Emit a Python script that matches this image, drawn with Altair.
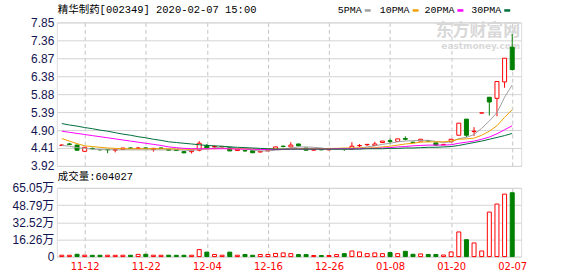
import json
import numpy as np
import pandas as pd
import altair as alt

# ---------------- data ----------------
dates = ["11-07", "11-08", "11-11", "11-12", "11-13", "11-14", "11-15", "11-18", "11-19", "11-20",
         "11-21", "11-22", "11-25", "11-26", "11-27", "11-28", "11-29", "12-02", "12-03", "12-04",
         "12-05", "12-06", "12-09", "12-10", "12-11", "12-12", "12-13", "12-16", "12-17", "12-18",
         "12-19", "12-20", "12-23", "12-24", "12-25", "12-26", "12-27", "12-30", "12-31", "01-02",
         "01-03", "01-06", "01-07", "01-08", "01-09", "01-10", "01-13", "01-14", "01-15", "01-16",
         "01-17", "01-20", "01-21", "01-22", "01-23", "02-03", "02-04", "02-05", "02-06", "02-07"]

opens = [4.48, 4.52, 4.49, 4.32, 4.40, 4.37, 4.37, 4.35, 4.37, 4.41,
         4.40, 4.41, 4.37, 4.41, 4.37, 4.36, 4.31, 4.31, 4.35, 4.48,
         4.44, 4.44, 4.43, 4.34, 4.34, 4.34, 4.30, 4.33, 4.38, 4.46,
         4.44, 4.52, 4.41, 4.35, 4.37, 4.36, 4.37, 4.38, 4.38, 4.47,
         4.50, 4.48, 4.56, 4.61, 4.59, 4.67, 4.57, 4.60, 4.61, 4.55,
         4.50, 4.58, 4.76, 5.20, 4.86, 5.37, 5.80, 5.77, 6.22, 7.17]
highs = [4.51, 4.55, 4.50, 4.44, 4.42, 4.38, 4.37, 4.38, 4.41, 4.43,
         4.44, 4.43, 4.40, 4.42, 4.37, 4.37, 4.32, 4.35, 4.60, 4.52,
         4.48, 4.46, 4.43, 4.38, 4.35, 4.34, 4.32, 4.36, 4.44, 4.48,
         4.57, 4.53, 4.41, 4.37, 4.37, 4.38, 4.39, 4.38, 4.57, 4.52,
         4.51, 4.58, 4.60, 4.67, 4.66, 4.73, 4.58, 4.65, 4.63, 4.55,
         4.52, 4.66, 5.09, 5.20, 4.98, 5.37, 5.80, 6.23, 6.87, 7.53]
lows = [4.47, 4.49, 4.34, 4.31, 4.37, 4.34, 4.27, 4.29, 4.36, 4.39,
        4.38, 4.38, 4.31, 4.39, 4.34, 4.33, 4.26, 4.26, 4.32, 4.41,
        4.40, 4.42, 4.33, 4.33, 4.31, 4.28, 4.29, 4.33, 4.37, 4.43,
        4.43, 4.46, 4.35, 4.34, 4.35, 4.35, 4.36, 4.33, 4.37, 4.44,
        4.47, 4.48, 4.56, 4.53, 4.58, 4.62, 4.55, 4.60, 4.57, 4.48,
        4.49, 4.57, 4.76, 4.71, 4.74, 5.37, 5.30, 5.28, 6.06, 6.53]
closes = [4.49, 4.51, 4.35, 4.43, 4.39, 4.36, 4.36, 4.37, 4.41, 4.40,
          4.41, 4.40, 4.40, 4.40, 4.35, 4.34, 4.28, 4.35, 4.54, 4.41,
          4.45, 4.45, 4.33, 4.38, 4.33, 4.28, 4.32, 4.36, 4.44, 4.45,
          4.49, 4.47, 4.35, 4.37, 4.36, 4.37, 4.38, 4.37, 4.46, 4.48,
          4.51, 4.52, 4.60, 4.59, 4.66, 4.65, 4.56, 4.65, 4.60, 4.49,
          4.51, 4.65, 5.09, 4.76, 4.87, 5.37, 5.67, 6.23, 6.87, 6.56]
volumes = [13000, 12500, 22000, 13000, 12000, 12500, 13000, 12000, 13000, 12500,
           21000, 22000, 13000, 12500, 13000, 12000, 12500, 13000, 66000, 42000,
           20000, 13000, 42000, 13000, 20000, 12500, 20000, 20000, 30000, 35000,
           28000, 19000, 19000, 10000, 10000, 10000, 19000, 28000, 53000, 44000,
           28000, 35000, 28000, 38000, 28000, 50000, 22000, 25000, 20000, 20000,
           15000, 44000, 233000, 160000, 129000, 53000, 421000, 497000, 591000, 604027]

ma5 = [4.48, 4.46, 4.42, 4.40, 4.38, 4.37, 4.36, 4.36, 4.36, 4.36,
       4.36, 4.36, 4.36, 4.36, 4.36, 4.36, 4.35, 4.34, 4.37, 4.38,
       4.41, 4.44, 4.44, 4.40, 4.39, 4.35, 4.33, 4.33, 4.35, 4.37,
       4.41, 4.44, 4.44, 4.43, 4.41, 4.38, 4.37, 4.37, 4.39, 4.41,
       4.44, 4.47, 4.51, 4.54, 4.58, 4.60, 4.61, 4.62, 4.62, 4.59,
       4.56, 4.58, 4.67, 4.70, 4.78, 4.95, 5.15, 5.38, 5.80, 6.14]
ma10 = [4.67, 4.60, 4.53, 4.47, 4.45, 4.43, 4.41, 4.40, 4.39, 4.39,
        4.39, 4.39, 4.39, 4.39, 4.39, 4.38, 4.38, 4.37, 4.39, 4.39,
        4.39, 4.40, 4.39, 4.39, 4.39, 4.38, 4.38, 4.39, 4.38, 4.38,
        4.38, 4.39, 4.39, 4.39, 4.39, 4.40, 4.40, 4.41, 4.41, 4.41,
        4.41, 4.42, 4.44, 4.46, 4.49, 4.52, 4.54, 4.57, 4.58, 4.58,
        4.58, 4.60, 4.65, 4.66, 4.68, 4.76, 4.87, 5.02, 5.25, 5.46]
ma20 = [4.87, 4.84, 4.81, 4.78, 4.75, 4.72, 4.69, 4.66, 4.63, 4.60,
        4.57, 4.54, 4.51, 4.48, 4.44, 4.42, 4.40, 4.39, 4.39, 4.39,
        4.39, 4.39, 4.39, 4.38, 4.38, 4.38, 4.37, 4.37, 4.37, 4.37,
        4.38, 4.38, 4.38, 4.38, 4.38, 4.38, 4.39, 4.39, 4.39, 4.39,
        4.40, 4.40, 4.41, 4.42, 4.44, 4.45, 4.47, 4.48, 4.49, 4.49,
        4.49, 4.50, 4.54, 4.57, 4.60, 4.65, 4.71, 4.80, 4.91, 5.02]
ma30 = [5.08, 5.04, 5.01, 4.97, 4.94, 4.90, 4.87, 4.83, 4.79, 4.76,
        4.72, 4.69, 4.65, 4.62, 4.58, 4.56, 4.54, 4.52, 4.50, 4.48,
        4.47, 4.46, 4.44, 4.43, 4.42, 4.41, 4.40, 4.39, 4.38, 4.38,
        4.38, 4.38, 4.38, 4.38, 4.38, 4.38, 4.38, 4.38, 4.38, 4.38,
        4.39, 4.39, 4.39, 4.40, 4.40, 4.41, 4.41, 4.42, 4.43, 4.43,
        4.44, 4.45, 4.48, 4.52, 4.56, 4.60, 4.65, 4.70, 4.75, 4.81]

axis_dates = ["11-12", "11-22", "12-04", "12-16", "12-26", "01-08", "01-20", "02-07"]
price_ticks = ["3.92", "4.41", "4.90", "5.39", "5.88", "6.38", "6.87", "7.36", "7.85"]
volume_ticks = ["0", "16.26万", "32.52万", "48.79万", "65.05万"]
title_text = "精华制药[002349] 2020-02-07 15:00"
ma_labels = ["5PMA", "10PMA", "20PMA", "30PMA"]
volume_label = "成交量"
watermark_cn = "东方财富网"
watermark_en = "eastmoney.com"

# ---------------- styling ----------------
RED = "#ff0000"
GREEN = "#008000"
MA_COLORS = ["#a0a0a0", "#f0a000", "#ff00ff", "#006f3c"]
GRID = "#d4d4d4"
VGRID = "#c4c4c4"
BORDER = "#a0a0a0"
LABEL_COLOR = "#141450"
MONO = "Liberation Mono, Noto Sans CJK SC"
LABEL_FONT = "Liberation Sans, Noto Sans CJK SC"

W, HP, HV = 466, 144, 69

df = pd.DataFrame({"idx": np.arange(len(dates)), "date": dates, "open": opens, "high": highs,
                   "low": lows, "close": closes, "volume": volumes,
                   "MA5": ma5, "MA10": ma10, "MA20": ma20, "MA30": ma30})
prev = df["close"].shift(1)
up = (df["close"] > df["open"]) | ((df["close"] == df["open"]) & (df["close"] >= prev.fillna(df["open"])))
df["dir"] = np.where(up, "up", "down")
vup = np.where(prev.isna(), up, df["close"] >= prev)
df["vdir"] = np.where(vup, "up", "down")

tick_idx = [dates.index(d) for d in axis_dates]
label_expr = json.dumps(dates) + "[datum.value]"
xscale = alt.Scale(domain=[-0.653, 60.175], nice=False, zero=False, padding=0)

dir_color = alt.Scale(domain=["up", "down"], range=[RED, GREEN])
dir_fill = alt.Scale(domain=["up", "down"], range=["#ffffff", GREEN])

x_price_axis = alt.Axis(values=tick_idx, labels=False, ticks=False, domain=False,
                        grid=True, gridDash=[4, 3], gridColor=VGRID, title=None)
price_vals = [float(s) for s in price_ticks]
y_price_axis = alt.Axis(values=price_vals, format=".2f", ticks=False, domain=False, grid=True,
                        gridColor=GRID, labelFont=LABEL_FONT, labelFontSize=12,
                        labelColor=LABEL_COLOR, labelPadding=3, labelOverlap=False,
                        labelBound=False, title=None)
yscale_price = alt.Scale(domain=[price_vals[0], price_vals[-1]], nice=False, zero=False, padding=0)


def xp():
    return alt.X("idx:Q", scale=xscale, axis=x_price_axis)


def yp(field):
    return alt.Y(f"{field}:Q", scale=yscale_price, axis=y_price_axis)


base = alt.Chart(df)

wick = base.mark_rule(strokeWidth=1).encode(
    x=xp(), y=yp("low"), y2="high:Q",
    color=alt.Color("dir:N", scale=dir_color, legend=None),
)
body = base.mark_bar(size=4, strokeWidth=1).encode(
    x=xp(), y=yp("open"), y2="close:Q",
    fill=alt.Fill("dir:N", scale=dir_fill, legend=None),
    stroke=alt.Stroke("dir:N", scale=dir_color, legend=None),
)

ma_layers = []
for name, col in zip(["MA5", "MA10", "MA20", "MA30"], MA_COLORS):
    ma_layers.append(base.mark_line(strokeWidth=1, color=col, interpolate="linear").encode(
        x=xp(), y=yp(name)))

one = pd.DataFrame({"k": [0]})
txt = alt.Chart(one)
title_mark = txt.mark_text(align="left", baseline="middle", font=MONO, fontSize=10.5,
                           color="#000000").encode(
    x=alt.value(1), y=alt.value(-12), text=alt.value(title_text))

legend_layers = []
leg_x = [282, 324, 369, 416]
for lab, col, lx in zip(ma_labels, MA_COLORS, leg_x):
    legend_layers.append(txt.mark_text(align="left", baseline="middle", font=MONO, fontSize=10,
                                       color="#000000").encode(
        x=alt.value(lx), y=alt.value(-12), text=alt.value(lab)))
    tw = 6 * len(lab)
    legend_layers.append(txt.mark_rule(strokeWidth=2.5, color=col).encode(
        x=alt.value(lx + tw + 3), x2=alt.value(lx + tw + 9), y=alt.value(-12)))

wm1 = txt.mark_text(align="right", baseline="middle", font="Noto Sans CJK SC", fontSize=17,
                    fontWeight="bold", color="#d8d8d8").encode(
    x=alt.value(W - 1), y=alt.value(8.5), text=alt.value(watermark_cn))
wm2 = txt.mark_text(align="right", baseline="middle", font="DejaVu Sans", fontSize=9,
                    fontWeight="bold", color="#d8d8d8").encode(
    x=alt.value(W - 1), y=alt.value(23.5), text=alt.value(watermark_en))

anchor_top = txt.mark_rule(opacity=0).encode(
    x=alt.value(-56), x2=alt.value(W + 56), y=alt.value(-21), y2=alt.value(-21))

price = alt.layer(wm1, wm2, wick, body, *ma_layers, title_mark, *legend_layers, anchor_top).properties(
    width=W, height=HP)

# ---------------- volume panel ----------------
vol_vals = [0.0] + [float(s.replace("万", "")) * 10000 for s in volume_ticks[1:]]
x_vol = alt.X("idx:Q", scale=xscale,
              axis=alt.Axis(values=tick_idx, labelExpr=label_expr, ticks=False, domain=False,
                            grid=True, gridDash=[4, 3], gridColor=VGRID, labelColor=RED,
                            labelFont="DejaVu Sans", labelFontSize=10, labelPadding=5,
                            labelOverlap=False, labelFlush=False, labelBound=False, title=None))
vol_bars = base.mark_bar(size=4, strokeWidth=1).encode(
    x=x_vol,
    y=alt.Y("volume:Q", scale=alt.Scale(domain=[0, vol_vals[-1]], nice=False, padding=0),
            axis=alt.Axis(values=vol_vals,
                          labelExpr="datum.value == 0 ? '0' : format(datum.value / 10000, '.2f') + '万'",
                          ticks=False, domain=False, grid=True, gridColor=GRID,
                          labelFont=LABEL_FONT, labelFontSize=12, labelOverlap=False,
                          labelBound=False, labelColor=LABEL_COLOR, labelPadding=3, title=None)),
    fill=alt.Fill("vdir:N", scale=dir_fill, legend=None),
    stroke=alt.Stroke("vdir:N", scale=dir_color, legend=None),
)
vol_title = txt.mark_text(align="left", baseline="middle", font=MONO, fontSize=10.5,
                          color="#000000").encode(
    x=alt.value(1), y=alt.value(-11), text=alt.value(f"{volume_label}:{volumes[-1]}"))
anchor_bottom = txt.mark_rule(opacity=0).encode(
    x=alt.value(-56), x2=alt.value(W + 56), y=alt.value(HV + 20), y2=alt.value(HV + 20))

volume = alt.layer(vol_bars, vol_title, anchor_bottom).properties(width=W, height=HV)

chart = alt.vconcat(price, volume, spacing=22, bounds="flush").properties(
    padding=0
).configure_view(stroke=BORDER, strokeWidth=1).configure(background="#ffffff")

chart.save("out.html", embed_options={"renderer": "svg", "actions": False})
